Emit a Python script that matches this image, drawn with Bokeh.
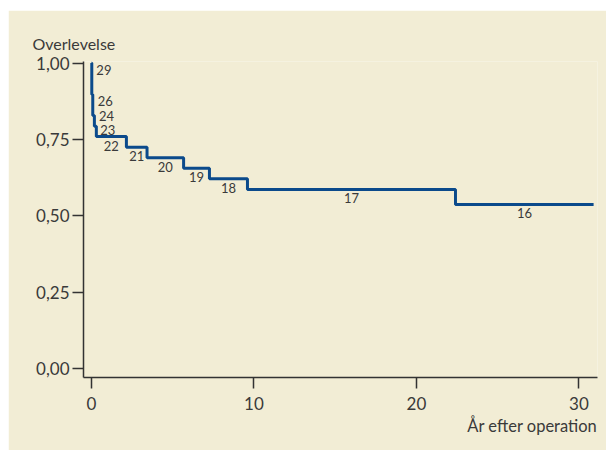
from bokeh.plotting import figure
from bokeh.models import Range1d, FixedTicker, CustomJSTickFormatter, Title
from bokeh.embed import file_html
from bokeh.resources import INLINE
from bokeh.core.properties import value

# Data
times = [0.0, 0.02, 0.08, 0.18, 0.3, 2.15, 3.42, 5.67, 7.26, 9.6, 22.4, 30.9]
survival = [1.0, 0.897, 0.828, 0.793, 0.759, 0.724, 0.690, 0.655, 0.621, 0.586, 0.537, 0.537]
at_risk = [29, 26, 24, 23, 22, 21, 20, 19, 18, 17, 16]
y_ticks = [0.0, 0.25, 0.5, 0.75, 1.0]
x_ticks = [0, 10, 20, 30]

BG = "#f2edd5"
LINE = "#0b4a8b"
TXT = "#3a3a3a"
AX = "#333333"
FONT = "Lato"

p = figure(width=598, height=440, output_backend="svg", toolbar_location=None,
           x_range=Range1d(-0.49, 31.14), y_range=Range1d(-0.03, 1.005),
           min_border_left=75, min_border_right=9, min_border_top=51, min_border_bottom=73)
p.margin = (10, 0, 0, 8)
p.background_fill_color = BG
p.border_fill_color = BG
p.outline_line_color = None
p.grid.visible = False

p.step(times, survival, mode="after", line_color=LINE, line_width=3)

# at-risk labels
gap = 0.046
short_x, short_y, short_t = [], [], []
long_x, long_y, long_t = [], [], []
for i, n in enumerate(at_risk):
    t0, t1 = times[i], times[i + 1]
    if t1 - t0 < 0.5:
        if len(short_y) < 2:
            yl = survival[i]
        else:
            yl = short_y[-1] - gap
        short_x.append(0.3 + 0.08 * len(short_x))
        short_y.append(yl)
        short_t.append(str(n))
    else:
        long_x.append((t0 + t1) / 2)
        long_y.append(survival[i])
        long_t.append(str(n))

p.text(x=short_x, y=short_y, text=short_t, text_font=value(FONT), text_font_size="13px",
       text_color=TXT, text_align="left", text_baseline="top", y_offset=2)
p.text(x=long_x, y=long_y, text=long_t, text_font=value(FONT), text_font_size="13px",
       text_color=TXT, text_align="center", text_baseline="top", y_offset=4)

for ax, ticks in ((p.xaxis, x_ticks), (p.yaxis, y_ticks)):
    ax.ticker = FixedTicker(ticks=ticks)
    ax.minor_tick_line_color = None
    ax.major_tick_in = 0
    ax.major_tick_out = 11
    ax.axis_line_color = AX
    ax.axis_line_width = 1.5
    ax.major_tick_line_color = AX
    ax.major_tick_line_width = 1.5
    ax.major_label_text_font = FONT
    ax.major_label_text_color = TXT
    ax.major_label_text_font_size = "17px"

p.yaxis.formatter = CustomJSTickFormatter(code="return tick.toFixed(2).replace('.', ',');")
p.yaxis.major_label_standoff = 3
p.xaxis.major_label_standoff = 8

p.add_layout(Title(text="Overlevelse", align="left", offset=-51, text_font=FONT,
                   text_font_size="16px", text_color=TXT, text_font_style="normal",
                   standoff=18), "above")
p.add_layout(Title(text="År efter operation", align="right", text_font=FONT,
                   text_font_size="16.5px", text_color=TXT, text_font_style="normal",
                   standoff=3), "below")

open("out.html", "w").write(file_html(p, INLINE))
